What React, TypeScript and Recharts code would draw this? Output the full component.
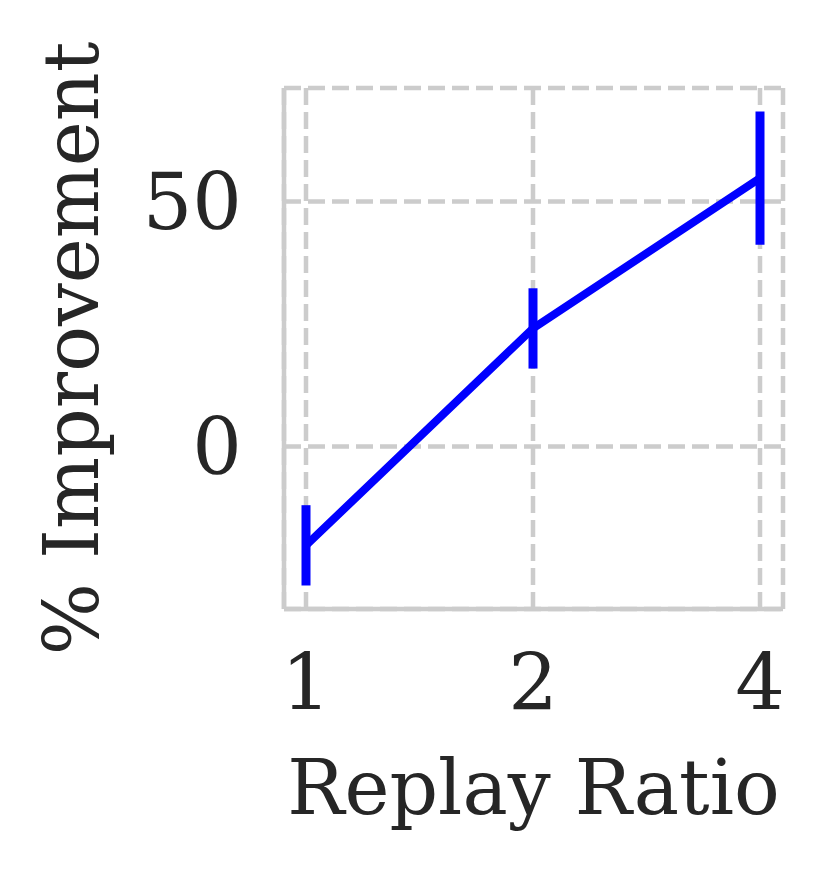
import React from 'react';
import { LineChart, Line, XAxis, YAxis, CartesianGrid, ErrorBar } from 'recharts';

const ratios = ['1', '2', '4'];
const meanImprovement = [-20.2, 24.1, 54.8];
const errImprovement = [8.2, 8.2, 13.6];
const yTicks = [0, 50];

const data = ratios.map((r, i) => ({ ratio: r, mean: meanImprovement[i], err: errImprovement[i] }));

const FONT = 'DejaVu Serif';
const TEXT = '#262626';
const GRID = '#cccccc';
const BLUE = '#0000ff';

const YLabel = (props: any) => {
  const vb = props.viewBox || {};
  const cx = 98;
  const cy = (vb.y ?? 88) + (vb.height ?? 521) / 2;
  return (
    <text x={cx} y={cy} transform={`rotate(-90, ${cx}, ${cy})`} textAnchor="middle" fontFamily={FONT} fontSize={76} fill={TEXT}>
      % Improvement
    </text>
  );
};

const XLabel = (props: any) => {
  const vb = props.viewBox || {};
  const cx = (vb.x ?? 284) + (vb.width ?? 499) / 2;
  return (
    <text x={cx} y={814} textAnchor="middle" fontFamily={FONT} fontSize={76} fill={TEXT}>
      Replay Ratio
    </text>
  );
};

export default function App() {
  return (
    <div style={{ position: 'absolute', left: 0, top: 0, background: '#fff' }}>
      <LineChart width={829} height={871} data={data} margin={{ top: 88, right: 46, bottom: 0, left: 0 }}>
        <CartesianGrid stroke={GRID} strokeWidth={4.5} strokeDasharray="17 7" />
        <XAxis
          dataKey="ratio"
          type="category"
          padding={{ left: 22, right: 23 }}
          height={262}
          tickLine={false}
          tickSize={0}
          tickMargin={46}
          axisLine={{ stroke: GRID, strokeWidth: 4.5 }}
          tick={{ fontFamily: FONT, fontSize: 78, fill: TEXT }}
          label={<XLabel />}
        />
        <XAxis
          xAxisId="top"
          dataKey="ratio"
          orientation="top"
          height={0}
          tick={false}
          tickLine={false}
          axisLine={{ stroke: GRID, strokeWidth: 4.5 }}
        />
        <YAxis
          type="number"
          domain={[-33.2, 73.2]}
          ticks={yTicks}
          width={284}
          tickLine={false}
          tickSize={0}
          tickMargin={42}
          axisLine={{ stroke: GRID, strokeWidth: 4.5 }}
          tick={{ fontFamily: FONT, fontSize: 78, fill: TEXT }}
          label={<YLabel />}
        />
        <YAxis
          yAxisId="right"
          orientation="right"
          type="number"
          domain={[-33.2, 73.2]}
          width={0}
          tick={false}
          tickLine={false}
          axisLine={{ stroke: GRID, strokeWidth: 4.5 }}
        />
        <Line dataKey="mean" stroke={BLUE} strokeWidth={8} dot={false} isAnimationActive={false}>
          <ErrorBar dataKey="err" direction="y" width={0} stroke={BLUE} strokeWidth={9} />
        </Line>
      </LineChart>
    </div>
  );
}
